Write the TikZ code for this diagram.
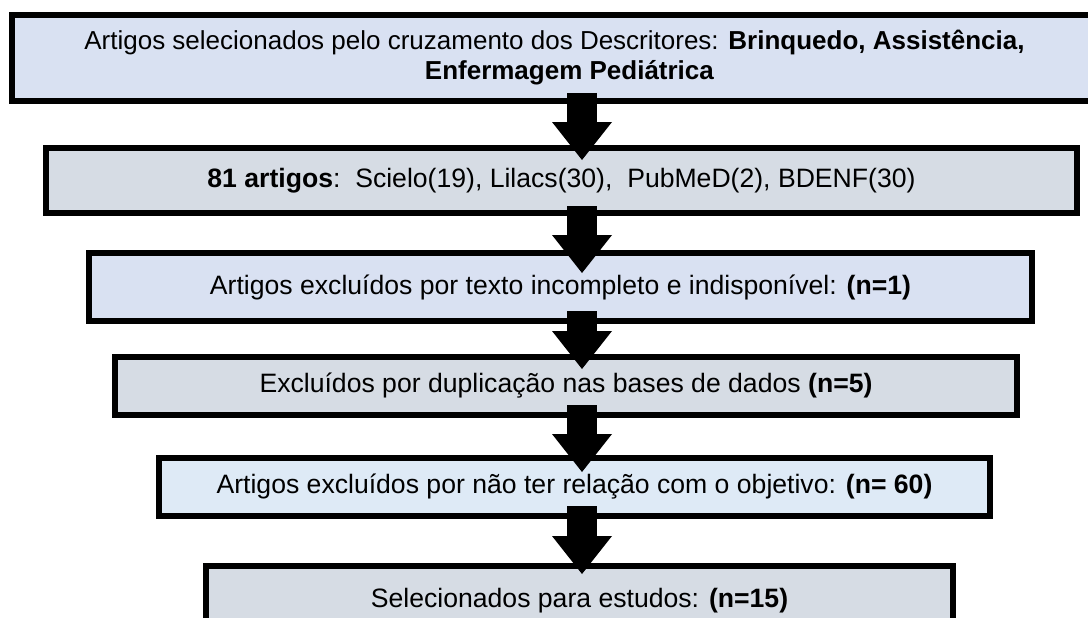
\documentclass[tikz,border=0pt]{standalone}
\usepackage{fontspec}
\setmainfont{Liberation Sans}
\usetikzlibrary{arrows.meta,calc}
\definecolor{boxblue}{HTML}{D9E1F2}
\definecolor{boxgray}{HTML}{D6DCE4}
\definecolor{boxpale}{HTML}{DEEAF6}
\tikzstyle{stage}=[draw, line width=6pt, rectangle, inner sep=0pt, align=center, font=\fontsize{26.6}{30}\selectfont]
\tikzstyle{bigarrow}=[line width=30pt, -{Triangle[width=60pt,length=38pt,line width=0pt]}]
\begin{document}
\begin{tikzpicture}[x=1pt, y=-1pt]
  \useasboundingbox (0,0) rectangle (1088,618);
  \node[stage, fill=boxblue, minimum width=1085pt, minimum height=86pt, font=\fontsize{26}{30}\selectfont] (crossing) at (554.5,58)
    {Artigos selecionados pelo cruzamento dos Descritores: \textbf{Brinquedo, Assistência,}\\\hspace*{30pt}\textbf{Enfermagem Pediátrica}};
  \node[stage, fill=boxgray, minimum width=1031pt, minimum height=65pt] (found) at (561.5,180.5)
    {\textbf{81 artigos}:\ \ Scielo(19), Lilacs(30),\ \ PubMeD(2), BDENF(30)};
  \node[stage, fill=boxblue, minimum width=943pt, minimum height=68pt] (incomplete) at (560.5,287)
    {Artigos excluídos por texto incompleto e indisponível: \textbf{(n=1)}};
  \node[stage, fill=boxgray, minimum width=902pt, minimum height=58pt] (duplicate) at (566,386)
    {Excluídos por duplicação nas bases de dados \textbf{(n=5)}};
  \node[stage, fill=boxpale, minimum width=831pt, minimum height=58pt] (offtopic) at (574.5,487)
    {Artigos excluídos por não ter relação com o objetivo: \textbf{(n= 60)}};
  \node[stage, fill=boxgray, minimum width=747pt, minimum height=70pt] (selected) at (579.5,601)
    {Selecionados para estudos: \textbf{(n=15)}};
  \coordinate (axis) at (582,0);
  \foreach \a/\b/\u/\d in {crossing/found/11/15, found/incomplete/10/23, incomplete/duplicate/13/15,
      duplicate/offtopic/13/17, offtopic/selected/13/11}
    \draw[bigarrow] ($(\a.south -| axis)+(0,-\u)$) -- ($(\b.north -| axis)+(0,\d)$);
\end{tikzpicture}
\end{document}
